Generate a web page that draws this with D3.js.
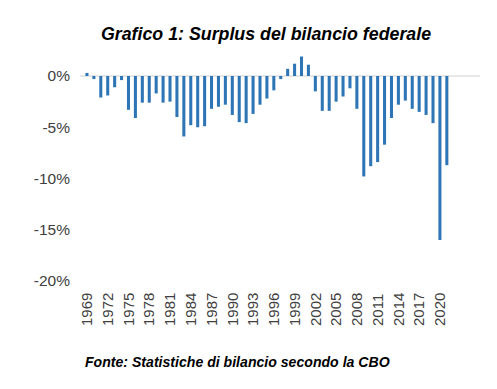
<!DOCTYPE html>
<html>
  <head>
    <title>Grafico 1</title>
    <script src="https://unpkg.com/d3@7/dist/d3.min.js"></script>
    <style>
      body { margin: 0; background: #fff; }
      text { font-family: Arial, 'Liberation Sans', sans-serif; }
    </style>
  </head>
  <body>
    <svg width='497' height='389'></svg>
    <script>
      const years = d3.range(1969, 2022);
      // surplus (+) / deficit (-) as % of GDP
      const surplus = [
        0.3, -0.3, -2.1, -1.9, -1.1, -0.4, -3.3, -4.1, -2.6, -2.6,
        -1.7, -2.6, -2.5, -4.0, -5.9, -4.8, -5.0, -4.9, -3.2, -3.0,
        -2.8, -3.8, -4.5, -4.6, -3.7, -2.8, -2.2, -1.4, -0.3, 0.7,
        1.2, 1.9, 1.1, -1.5, -3.4, -3.4, -2.5, -2.0, -1.2, -3.2,
        -9.8, -8.8, -8.4, -6.7, -4.1, -2.8, -2.4, -3.2, -3.5, -3.8,
        -4.6, -16.0, -8.7
      ];
      const yTicks = [0, -5, -10, -15, -20];
      const xTickYears = d3.range(1969, 2022, 3);
      const title = 'Grafico 1: Surplus del bilancio federale';
      const source = 'Fonte: Statistiche di bilancio secondo la CBO';

      const data = years.map((y, i) => ({year: y, value: surplus[i]}));

      const svg = d3.select('svg');

      // scale
      const xScale = d3.scaleBand()
        .domain(years)
        .range([83.5, 450.3])
        .paddingInner(0.56)
        .paddingOuter(0.28);
      const yScale = d3.scaleLinear()
        .domain([-20, 0])
        .range([281, 76]);

      // title
      svg.append('text')
        .attr('x', 266)
        .attr('y', 40)
        .attr('text-anchor', 'middle')
        .style('font-size', '17.8px')
        .style('font-weight', 'bold')
        .style('font-style', 'italic')
        .attr('fill', '#000')
        .text(title);

      // zero line
      svg.append('line')
        .attr('x1', 80).attr('x2', 480)
        .attr('y1', yScale(0)).attr('y2', yScale(0))
        .attr('stroke', '#d0d0d0')
        .attr('stroke-width', 1);

      // y axis
      const yAxis = d3.axisLeft(yScale)
        .tickValues(yTicks)
        .tickSize(0)
        .tickPadding(0)
        .tickFormat(d => d + '%');
      const yAxisG = svg.append('g')
        .attr('transform', 'translate(70,0)')
        .call(yAxis);
      yAxisG.select('.domain').remove();
      yAxisG.selectAll('text')
        .style('font-size', '15.5px')
        .style('font-family', "Arial, 'Liberation Sans', sans-serif")
        .attr('fill', '#404040');

      // bars
      svg.append('g').selectAll('rect')
        .data(data)
        .enter().append('rect')
        .attr('x', d => xScale(d.year))
        .attr('width', xScale.bandwidth())
        .attr('y', d => yScale(Math.max(0, d.value)))
        .attr('height', d => Math.abs(yScale(d.value) - yScale(0)))
        .attr('fill', '#2e75b6');

      // x axis (rotated labels)
      const xAxis = d3.axisBottom(xScale)
        .tickValues(xTickYears)
        .tickSize(0)
        .tickPadding(0);
      const xAxisG = svg.append('g')
        .attr('transform', 'translate(0,291)')
        .call(xAxis);
      xAxisG.select('.domain').remove();
      xAxisG.selectAll('text')
        .attr('transform', 'rotate(-90)')
        .attr('x', -35)
        .attr('y', 0)
        .attr('dy', '0.35em')
        .attr('text-anchor', 'start')
        .style('font-size', '15px')
        .style('font-family', "Arial, 'Liberation Sans', sans-serif")
        .attr('fill', '#404040');

      // source
      svg.append('text')
        .attr('x', 85)
        .attr('y', 367)
        .style('font-size', '14.1px')
        .style('font-weight', 'bold')
        .style('font-style', 'italic')
        .attr('fill', '#000')
        .text(source);
    </script>
  </body>
</html>
